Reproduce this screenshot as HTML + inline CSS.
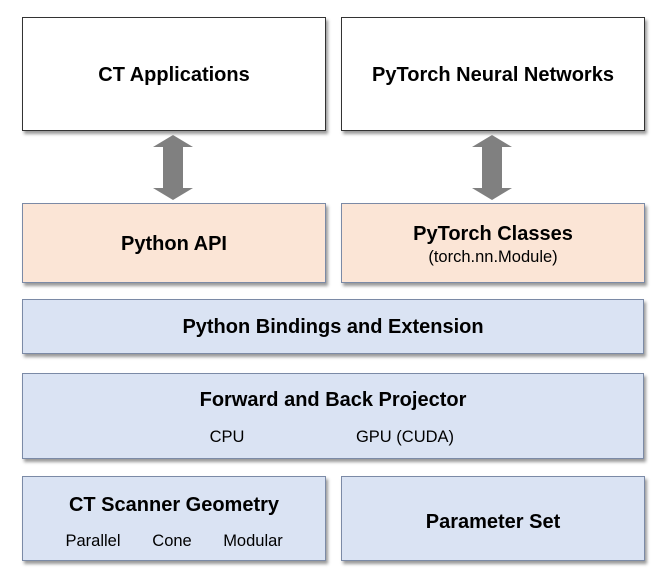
<!DOCTYPE html>
<html><head><style>
body{margin:0;width:664px;height:581px;background:#fff;position:relative;font-family:"Liberation Sans",sans-serif;overflow:hidden}
.b{position:absolute;box-sizing:border-box;border:1px solid #7b8aa6;box-shadow:2px 3px 3px #999;text-align:center;color:#000}
.t{position:absolute;left:0;right:0;font-weight:bold;font-size:20px;line-height:24px}
.w{background:#fff;border-color:#333}
.p{background:#fbe5d6}
.u{background:#dae3f3}
.s{position:absolute;font-size:16.5px;line-height:20px;white-space:nowrap;transform:translateX(-50%)}
</style></head><body>
<div class="b w" style="left:22px;top:17px;width:304px;height:114px"><div class="t" style="top:45px">CT Applications</div></div>
<div class="b w" style="left:341px;top:17px;width:304px;height:114px"><div class="t" style="top:45px">PyTorch Neural Networks</div></div>
<svg style="position:absolute;left:0;top:0" width="664" height="581">
<polygon fill="#808080" points="173,135 193,147 183,147 183,188 193,188 173,200 153,188 163,188 163,147 153,147"/>
<polygon fill="#808080" points="492,135 512,147 502,147 502,188 512,188 492,200 472,188 482,188 482,147 472,147"/>
</svg>
<div class="b p" style="left:22px;top:203px;width:304px;height:80px"><div class="t" style="top:28px">Python API</div></div>
<div class="b p" style="left:341px;top:203px;width:304px;height:80px"><div class="t" style="top:18px">PyTorch Classes</div><div class="s" style="left:151px;top:43px">(torch.nn.Module)</div></div>
<div class="b u" style="left:22px;top:299px;width:622px;height:55px"><div class="t" style="top:15px">Python Bindings and Extension</div></div>
<div class="b u" style="left:22px;top:373px;width:622px;height:86px"><div class="t" style="top:14px">Forward and Back Projector</div><div class="s" style="left:204px;top:53px">CPU</div><div class="s" style="left:382px;top:53px">GPU (CUDA)</div></div>
<div class="b u" style="left:22px;top:476px;width:304px;height:85px"><div class="t" style="top:16px">CT Scanner Geometry</div><div class="s" style="left:70px;top:54px">Parallel</div><div class="s" style="left:149px;top:54px">Cone</div><div class="s" style="left:230px;top:54px">Modular</div></div>
<div class="b u" style="left:341px;top:476px;width:304px;height:85px"><div class="t" style="top:33px">Parameter Set</div></div>
</body></html>
